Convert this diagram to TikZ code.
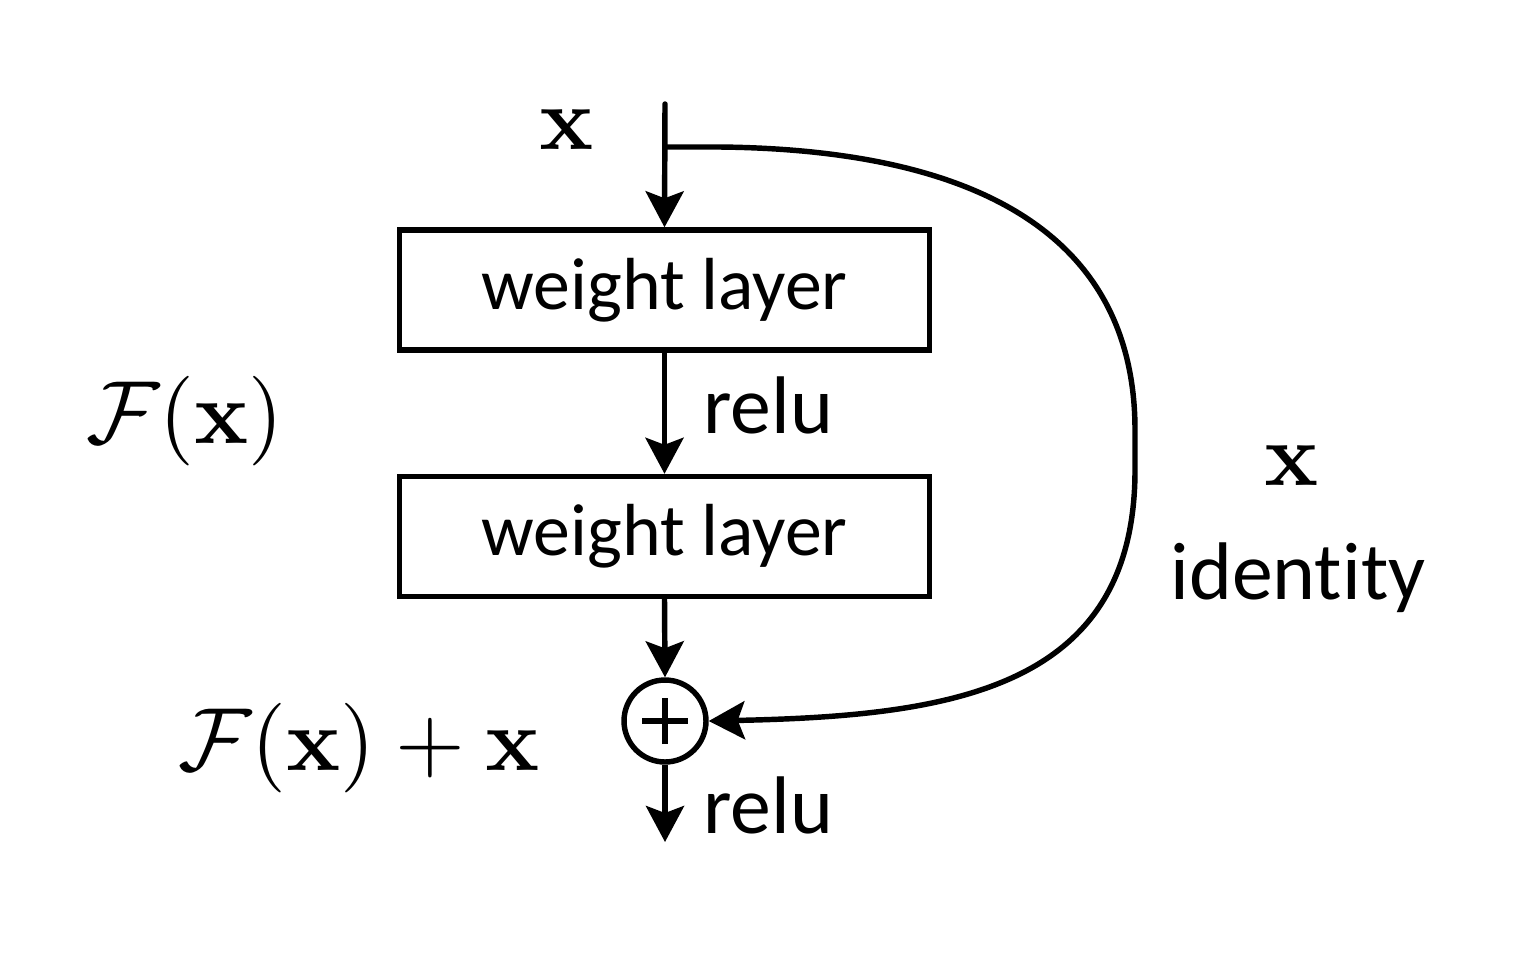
\documentclass[tikz,border=0pt]{standalone}
\usepackage[no-math]{fontspec}
\usepackage{graphicx}
\newfontfamily\carl[Ligatures=NoCommon]{Carlito}
\usetikzlibrary{arrows.meta}
\newcommand{\scaledmath}[1]{\scalebox{5.1}{$#1$}}
\begin{document}
\begin{tikzpicture}[x=0.02cm,y=-0.02cm,
  ln/.style={line width=3.1pt},
  arr/.style={ln,-{Stealth[length=0.72cm,width=0.76cm,inset=0.14cm]}},
  wbox/.style={draw,ln,minimum width=10.6cm,minimum height=2.4cm,inner sep=0pt,font=\carl\fontsize{42}{50}\selectfont},
  lbl/.style={inner sep=0pt,font=\carl\fontsize{46.5}{55}\selectfont},
  mth/.style={inner sep=0pt,font=\fontsize{10}{12}\selectfont}]
\useasboundingbox (0,0) rectangle (1524,968);
\node[wbox] (w1) at (664.5,290) {weight layer};
\node[wbox] (w2) at (664.5,536.5) {weight layer};
\node[draw,ln,circle,minimum size=1.64cm,inner sep=0pt] (sum) at (665,721) {};
\draw[line width=2.9pt] ([xshift=-0.46cm]sum.center) -- ([xshift=0.46cm]sum.center);
\draw[line width=2.9pt] ([yshift=-0.46cm]sum.center) -- ([yshift=0.46cm]sum.center);
\coordinate (top) at (665,104);
\coordinate (split) at (665,147);
\coordinate (out) at (665,842);
\draw[arr,line cap=round] (top) -- (w1.north);
\draw[arr] (w1.south) -- (w2.north);
\draw[arr] (w2.south) -- (sum.north);
\draw[arr] (sum.south) -- (out);
\draw[arr] (split) -- (720,147) .. controls (1000,150) and (1135,250) .. (1135,430) -- (1135,470) .. controls (1135,690) and (950,716) .. (sum.east);
\node[mth] (xtop) at (567,130) {\scaledmath{\mathbf{x}}};
\node[mth] (fx) at (185,421) {\scaledmath{\mathcal{F}(\mathbf{x})}};
\node[mth] (fxx) at (359,748) {\scaledmath{\mathcal{F}(\mathbf{x})+\mathbf{x}}};
\node[mth] (xright) at (1292,466) {\scaledmath{\mathbf{x}}};
\node[lbl] (ident) at (1298,578) {identity};
\node[lbl,anchor=west] (relu1) at (703,405) {relu};
\node[lbl,anchor=west] (relu2) at (703,805) {relu};
\end{tikzpicture}
\end{document}
